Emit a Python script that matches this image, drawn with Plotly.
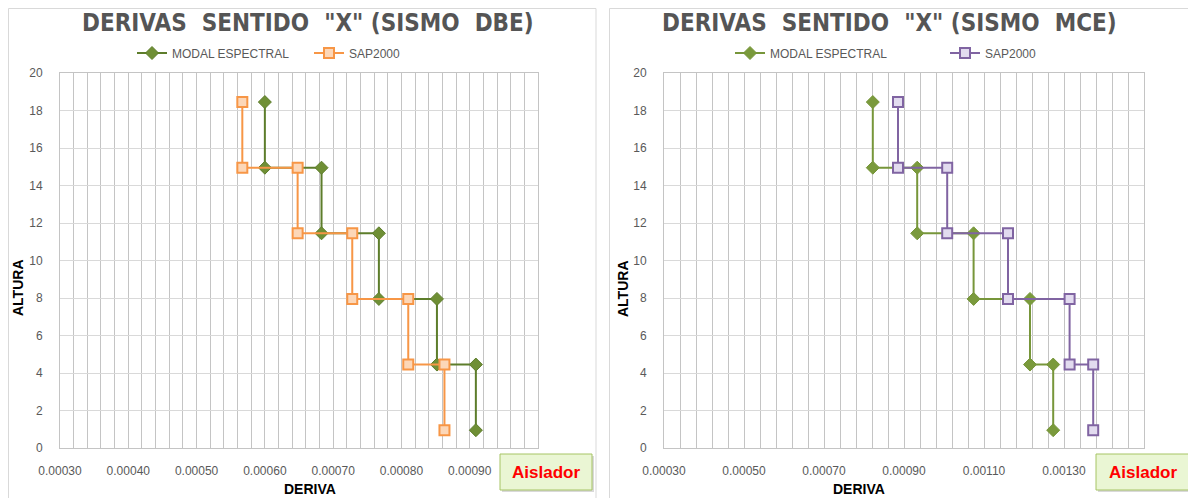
import plotly.graph_objects as go

# ---- data ----
alturas = [18.45, 14.95, 11.45, 7.95, 4.45, 0.95]
dbe_modal = [0.000600, 0.000683, 0.000767, 0.000852, 0.000909]
dbe_sap = [0.000567, 0.000648, 0.000728, 0.000810, 0.000863]
mce_modal = [0.000822, 0.000933, 0.001074, 0.001215, 0.001273]
mce_sap = [0.000885, 0.001008, 0.001160, 0.001314, 0.001373]
x_ticks_dbe = [0.0003, 0.0004, 0.0005, 0.0006, 0.0007, 0.0008, 0.0009]
x_ticks_mce = [0.0003, 0.0005, 0.0007, 0.0009, 0.0011, 0.0013]
y_ticks = [0, 2, 4, 6, 8, 10, 12, 14, 16, 18, 20]
titles = ['DERIVAS  SENTIDO  "X" (SISMO  DBE)', 'DERIVAS  SENTIDO  "X" (SISMO  MCE)']
series_names = ["MODAL ESPECTRAL", "SAP2000"]


def stairs(drifts, heights):
    xs, ys = [], []
    for i, d in enumerate(drifts):
        xs += [d, d]
        ys += [heights[i], heights[i + 1]]
    return xs, ys


# the page body adds an 8px offset; the figure is sized to fit the window
OX, OY = 8, 8
W, H = 1196 - OX, 498 - OY


def fx(x):
    return (x - OX) / W


def fy(y):
    return 1 - (y - OY) / H


fig = go.Figure()

GREEN_L = "#5d7d2b"
GREEN_R = "#77963a"
ORANGE = "#f79646"
PURPLE = "#8064a2"

x1, y1 = stairs(dbe_modal, alturas)
fig.add_trace(go.Scatter(x=x1, y=y1, mode="lines+markers", name=series_names[0],
                         line=dict(color=GREEN_L, width=2),
                         marker=dict(symbol="diamond", size=10, color="#6f8f35",
                                     line=dict(color=GREEN_L, width=1)),
                         xaxis="x", yaxis="y", legend="legend"))
x2, y2 = stairs(dbe_sap, alturas)
fig.add_trace(go.Scatter(x=x2, y=y2, mode="lines+markers", name=series_names[1],
                         line=dict(color=ORANGE, width=2),
                         marker=dict(symbol="square", size=10, color="#fcd7b8",
                                     line=dict(color=ORANGE, width=2)),
                         xaxis="x", yaxis="y", legend="legend"))
x3, y3 = stairs(mce_modal, alturas)
fig.add_trace(go.Scatter(x=x3, y=y3, mode="lines+markers", name=series_names[0],
                         line=dict(color=GREEN_R, width=2),
                         marker=dict(symbol="diamond", size=10, color="#7a9a3c",
                                     line=dict(color=GREEN_R, width=1)),
                         xaxis="x2", yaxis="y2", legend="legend2"))
x4, y4 = stairs(mce_sap, alturas)
fig.add_trace(go.Scatter(x=x4, y=y4, mode="lines+markers", name=series_names[1],
                         line=dict(color=PURPLE, width=2),
                         marker=dict(symbol="square", size=10, color="#e2dbef",
                                     line=dict(color=PURPLE, width=2)),
                         xaxis="x2", yaxis="y2", legend="legend2"))

GRID = "#c4c4c4"
TICKFONT = dict(family="Liberation Sans", size=12, color="#595959")


def xaxis(domain, rng, tickvals, minor):
    return dict(domain=domain, range=rng, tickmode="array", tickvals=tickvals,
                ticktext=["%.5f" % v for v in tickvals],
                showgrid=True, gridcolor=GRID, gridwidth=1,
                minor=dict(tickmode="linear", dtick=minor, tick0=0.0003, showgrid=True,
                           gridcolor=GRID, gridwidth=1),
                showline=True, linecolor=GRID, mirror=True, zeroline=False, automargin=False,
                ticks="", ticklabelstandoff=12, tickfont=TICKFONT, fixedrange=True)


def yaxis(anchor):
    return dict(domain=[fy(448), fy(73)], range=[0, 20], tickmode="array",
                tickvals=y_ticks, ticktext=[str(v) for v in y_ticks],
                showgrid=True, gridcolor="#d9d9d9", gridwidth=1, automargin=False,
                showline=True, linecolor=GRID, mirror=True, zeroline=False,
                ticks="", ticklabelstandoff=14, tickfont=TICKFONT, anchor=anchor)


LEGFONT = dict(family="Liberation Sans", size=12, color="#595959")
fig.update_layout(
    width=W, height=H, margin=dict(l=0, r=0, t=0, b=0, autoexpand=False),
    paper_bgcolor="white", plot_bgcolor="white",
    xaxis=dict(**xaxis([fx(60), fx(538)], [0.0003, 0.0010], x_ticks_dbe, 0.00002), anchor="y"),
    yaxis=yaxis("x"),
    xaxis2=dict(**xaxis([fx(664), fx(1144)], [0.0003, 0.0015], x_ticks_mce, 0.00004), anchor="y2"),
    yaxis2=yaxis("x2"),
    legend=dict(orientation="h", xref="container", yref="container",
                x=fx(132), xanchor="left", y=fy(53), yanchor="middle",
                font=LEGFONT, itemwidth=30, entrywidth=132, bgcolor="rgba(0,0,0,0)"),
    legend2=dict(orientation="h", xref="container", yref="container",
                 x=fx(730), xanchor="left", y=fy(53), yanchor="middle",
                 font=LEGFONT, itemwidth=30, entrywidth=170, bgcolor="rgba(0,0,0,0)"),
    showlegend=True,
)

# chart frames
for (a, b) in [(8, 596), (609, 1193)]:
    fig.add_shape(type="rect", xref="paper", yref="paper", x0=fx(a + 0.5), x1=fx(b),
                  y0=-0.02, y1=fy(8.5), line=dict(color="#d9d9d9", width=1), layer="below")

annots = []
for cx, t in [(308, titles[0]), (889, titles[1])]:
    annots.append(dict(text="<b>" + t + "</b>", x=fx(cx), y=fy(23), xref="paper", yref="paper",
                       showarrow=False, xanchor="center", yanchor="middle",
                       font=dict(family="DejaVu Sans Condensed", size=24, color="#555555")))
for cx in [310, 859]:
    annots.append(dict(text="<b>DERIVA</b>", x=fx(cx), y=fy(489), xref="paper", yref="paper",
                       showarrow=False, xanchor="center", yanchor="middle",
                       font=dict(family="Liberation Sans", size=14, color="black")))
for cx in [18, 623]:
    annots.append(dict(text="<b>ALTURA</b>", x=fx(cx), y=fy(288), xref="paper", yref="paper",
                       showarrow=False, xanchor="center", yanchor="middle", textangle=-90,
                       font=dict(family="Liberation Sans", size=14, color="black")))
for (a, b) in [(500, 592), (1096, 1190)]:
    fig.add_shape(type="rect", xref="paper", yref="paper", x0=fx(a + 2), x1=fx(b + 2),
                  y0=fy(492), y1=fy(456), line=dict(width=0), fillcolor="rgba(0,0,0,0.15)",
                  layer="above")
    fig.add_shape(type="rect", xref="paper", yref="paper", x0=fx(a), x1=fx(b),
                  y0=fy(490), y1=fy(454), line=dict(color="#a6c465", width=1),
                  fillcolor="#eaf6d4", layer="above")
    annots.append(dict(text="<b>Aislador</b>", x=fx((a + b) / 2), y=fy(472), xref="paper",
                       yref="paper", showarrow=False, xanchor="center", yanchor="middle",
                       font=dict(family="Liberation Sans", size=17, color="#ff0000")))
fig.update_layout(annotations=annots)

fig.write_html("out.html")
